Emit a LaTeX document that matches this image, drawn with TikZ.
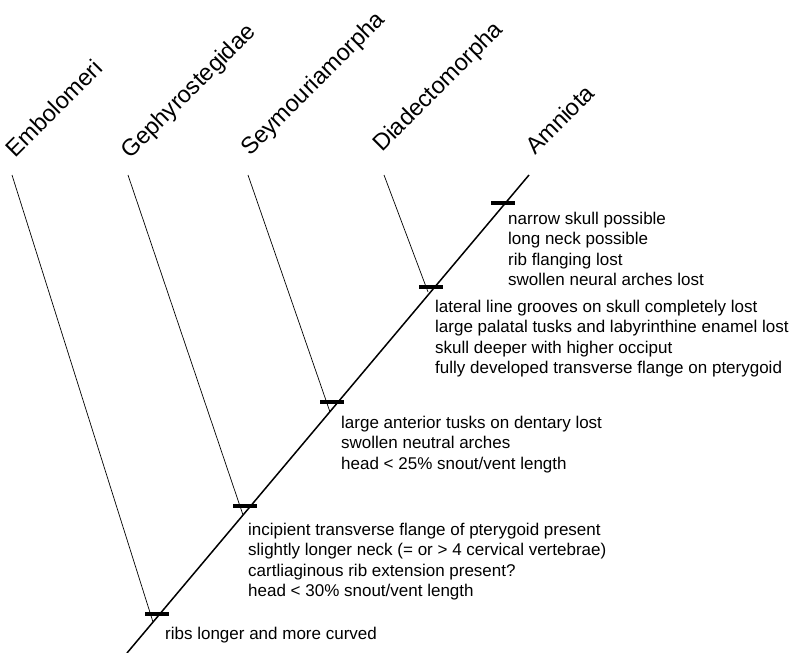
\documentclass[tikz,border=0pt]{standalone}
\usepackage{fontspec}
\setmainfont{Liberation Sans}
\usetikzlibrary{calc}
\tikzset{>=latex}
\tikzset{
  taxon/.style={rotate=45,anchor=base west,inner sep=0pt,font=\fontsize{23.5}{28}\selectfont},
  chars/.style={anchor=north west,inner sep=0pt,align=left,font=\fontsize{17}{20.3}\selectfont},
  apo/.style={line width=3.4pt},
  stem/.style={line width=1.5pt},
  branch/.style={line width=0.7pt}
}

\begin{document}
\begin{tikzpicture}[x=1pt,y=-1pt]
    \useasboundingbox (0,0) rectangle (793,653);

    \coordinate (R) at (127,653);
    \coordinate (T) at (529,175);

    \coordinate (E) at (12,175);
    \coordinate (G) at (128,175);
    \coordinate (S) at (248,175);
    \coordinate (D) at (384,175);

    \coordinate (E') at (153,622);
    \coordinate (G') at (243,515);
    \coordinate (S') at (330,412);
    \coordinate (D') at (428,292);

    \coordinate (k1) at (157,614);
    \coordinate (k2) at (245,506);
    \coordinate (k3) at (332,402);
    \coordinate (k4) at (431,287);
    \coordinate (k5) at (503,203);

    \node[taxon] (emb) at (15,159) {Embolomeri};
    \node[taxon] (geph) at (130,160) {Gephyrostegidae};
    \node[taxon] (sey) at (250,157) {Seymouriamorpha};
    \node[taxon] (dia) at (382,153) {Diadectomorpha};
    \node[taxon] (amn) at (535,156) {Amniota};

    \draw[stem](R)--(T);
    \draw[branch](E)--(E');
    \draw[branch](G)--(G');
    \draw[branch](S)--(S');
    \draw[branch](D)--(D');

    \foreach \k in {k1,k2,k3,k4,k5}
        \draw[apo](\k) ++(-12,0) -- ++(24,0);

    \node[chars] (c1) at (165,627) {ribs longer and more curved};
    \node[chars] (c2) at (248,523) {incipient transverse flange of pterygoid present\\
        slightly longer neck (= or > 4 cervical vertebrae)\\
        cartliaginous rib extension present?\\
        head < 30\% snout/vent length};
    \node[chars] (c3) at (341,416) {large anterior tusks on dentary lost\\
        swollen neutral arches\\
        head < 25\% snout/vent length};
    \node[chars] (c4) at (435,300) {lateral line grooves on skull completely lost\\
        large palatal tusks and labyrinthine enamel lost\\
        skull deeper with higher occiput\\
        fully developed transverse flange on pterygoid};
    \node[chars] (c5) at (508,212) {narrow skull possible\\
        long neck possible\\
        rib flanging lost\\
        swollen neural arches lost};
\end{tikzpicture}
\end{document}
